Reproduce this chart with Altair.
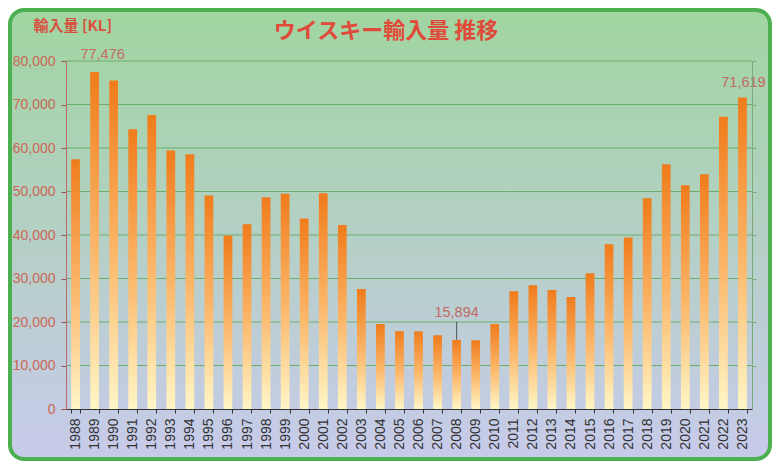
import altair as alt
import pandas as pd

years = [str(y) for y in range(1988, 2024)]
values = [57400, 77476, 75500, 64300, 67600, 59400, 58550, 49100, 39900, 42500,
          48700, 49500, 43800, 49600, 42300, 27600, 19550, 17900, 17850, 16950,
          15894, 15800, 19550, 27050, 28450, 27350, 25750, 31200, 37850, 39400,
          48450, 56250, 51450, 53950, 67200, 71619]
grid_values = [10000, 20000, 30000, 40000, 50000, 60000, 70000, 80000]

df = pd.DataFrame({"year": years, "value": values})
grid_df = pd.DataFrame({"g": grid_values})
bg_df = pd.DataFrame({"a": [0]})

W, H = 686, 348
PAD = {"left": 58, "top": 53, "right": 20, "bottom": 52}

ydom = alt.Scale(domain=[0, 80000])
xscale = alt.Scale(paddingInner=0.54, paddingOuter=0.27)
xaxis = alt.Axis(title=None, labelAngle=270, labelAlign="right", labelBaseline="middle",
                 tickBand="extent", tickSize=4, tickColor="#333333", domainColor="#333333",
                 labelColor="#333333", labelFontSize=14, labelFont="Liberation Sans",
                 labelPadding=5, zindex=1)

bg_grad = alt.LinearGradient(gradient="linear", x1=0, x2=0, y1=0, y2=1,
                             stops=[alt.GradientStop(color="#a0d5a0", offset=0),
                                    alt.GradientStop(color="#c8cbeb", offset=1)])
bar_grad = alt.LinearGradient(gradient="linear", x1=0, x2=0, y1=0, y2=1,
                              stops=[alt.GradientStop(color="#f07c1c", offset=0),
                                     alt.GradientStop(color="#fbb466", offset=0.5),
                                     alt.GradientStop(color="#fff6c6", offset=1)])

bg = alt.Chart(bg_df).mark_rect(fill=bg_grad, stroke="#4caf50", strokeWidth=4,
                                cornerRadius=14).encode(
    x=alt.value(-56), x2=alt.value(W + 18), y=alt.value(-51), y2=alt.value(H + 50))

grid = alt.Chart(grid_df).mark_rule(color="#6aae6a", strokeWidth=1.2).encode(
    y=alt.Y("g:Q", scale=ydom,
            axis=alt.Axis(orient="right", labels=False, title=None, grid=False,
                          values=grid_values, tickSize=4, tickColor="#7aaa7a",
                          domainColor="#7aaa7a", zindex=1)))

bars = alt.Chart(df).mark_bar(color=bar_grad).encode(
    x=alt.X("year:O", scale=xscale, axis=xaxis),
    y=alt.Y("value:Q", scale=ydom,
            axis=alt.Axis(values=[0] + grid_values, format=",.0f", grid=False, tickSize=5,
                          tickColor="#a05050", domainColor="#b86a6a",
                          labelColor="#cc6655", labelFont="Liberation Sans",
                          labelFontSize=14, labelPadding=6,
                          title="輸入量 [KL]", titleAngle=0, titleAlign="left",
                          titleBaseline="middle", titleX=-33, titleY=-36,
                          titleFont="Noto Sans CJK JP", titleFontSize=15,
                          titleFontWeight="bold", titleColor="#d9503f", zindex=1)))


def label(year, dx, dy):
    return alt.Chart(df).transform_filter(alt.datum.year == year).mark_text(
        font="Liberation Sans", fontSize=14.5, color="#c46a66", dx=dx, dy=dy,
        baseline="middle").encode(
        x=alt.X("year:O", scale=xscale, axis=xaxis),
        y=alt.Y("value:Q", scale=ydom, axis=None),
        text=alt.Text("value:Q", format=","))


leader = alt.Chart(df).transform_filter(alt.datum.year == "2008").mark_tick(
    orient="vertical", size=18, thickness=1, color="#222222", yOffset=-9).encode(
    x=alt.X("year:O", scale=xscale, axis=xaxis),
    y=alt.Y("value:Q", scale=ydom, axis=None))

chart = alt.layer(bg, grid, bars, leader,
                  label("1989", 8, -17), label("2008", 0, -27), label("2023", 1, -14)
                  ).resolve_axis(y="independent").properties(
    width=W, height=H,
    autosize=alt.AutoSizeParams(type="none"),
    padding=PAD,
    title=alt.TitleParams("ウイスキー輸入量 推移", anchor="middle", frame="group", dx=-23,
                          offset=-57, baseline="bottom", font="Noto Sans CJK JP",
                          fontSize=22, fontWeight="bold", color="#e04a3a"),
).configure_view(stroke=None)

chart.save("out.html", embed_options={"renderer": "svg", "actions": False})
